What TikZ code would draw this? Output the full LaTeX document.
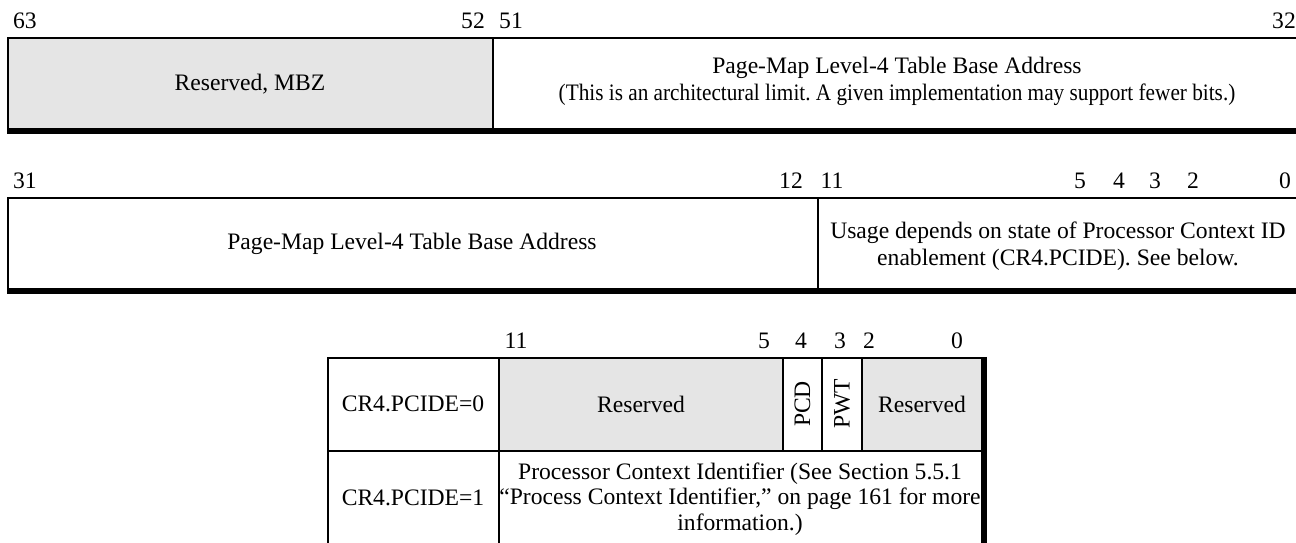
\documentclass[tikz,border=0pt]{standalone}
\usepackage{graphicx}
\usepackage{fontspec}
\setmainfont{Liberation Serif}
\frenchspacing
\definecolor{rsv}{RGB}{229,229,229}
\begin{document}
\begin{tikzpicture}[x=0.5pt,y=-0.5pt,
  every node/.style={font=\fontsize{11.8pt}{13.5pt}\selectfont, inner sep=0pt, outer sep=0pt},
  bitlbl/.style={anchor=base},
  rule/.style={line width=1.2pt},
  heavy/.style={line width=2.9pt},
  rsvfill/.style={fill=rsv}]
\useasboundingbox (0,0) rectangle (1296,542);
\clip (0,0) rectangle (1296,542);

% ---------- Row 1: bits 63..32 ----------
\node[bitlbl] (b63) at (25,28) {63};
\node[bitlbl] (b52) at (473,28) {52};
\node[bitlbl] (b51) at (511,28) {51};
\node[bitlbl] (b32) at (1284,28) {32};
\fill[rsvfill] (8,38) rectangle (493,131);
\draw[rule] (8,131) -- (8,38) -- (1303,38);
\draw[rule] (493,38) -- (493,131);
\draw[rule] (1301,38) -- (1301,131);
\draw[heavy] (7,131) -- (1303,131);
\node (mbz) at (250,84) {Reserved, MBZ};
\node[align=center] (pmlhi) at (897,81) {Page-Map Level-4 Table Base Address\\\scalebox{0.9}[1]{(This is an architectural limit. A given implementation may support fewer bits.)}};

% ---------- Row 2: bits 31..0 ----------
\node[bitlbl] (b31) at (25,188) {31};
\node[bitlbl] (b12) at (791,188) {12};
\node[bitlbl] (b11) at (832,188) {11};
\node[bitlbl] (b5) at (1080,188) {5};
\node[bitlbl] (b4) at (1119,188) {4};
\node[bitlbl] (b3) at (1155,188) {3};
\node[bitlbl] (b2) at (1193,188) {2};
\node[bitlbl] (b0) at (1285,188) {0};
\draw[rule] (8,291) -- (8,198) -- (1303,198);
\draw[rule] (818,198) -- (818,291);
\draw[rule] (1301,198) -- (1301,291);
\draw[heavy] (7,291) -- (1303,291);
\node (pmllo) at (412,244) {Page-Map Level-4 Table Base Address};
\node[align=center] (usage) at (1058,246) {Usage depends on state of Processor Context ID\\enablement (CR4.PCIDE). See below.};

% ---------- Bottom table: bits 11..0 ----------
\node[bitlbl] (c11) at (516,348) {11};
\node[bitlbl] (c5) at (764,348) {5};
\node[bitlbl] (c4) at (801,348) {4};
\node[bitlbl] (c3) at (840,348) {3};
\node[bitlbl] (c2) at (869,348) {2};
\node[bitlbl] (c0) at (957,348) {0};
\fill[rsvfill] (499,358) rectangle (783,451);
\fill[rsvfill] (862,358) rectangle (984,451);
\draw[rule] (328,548) -- (328,358) -- (984,358);
\draw[rule] (499,358) -- (499,548);
\draw[rule] (328,451) -- (984,451);
\draw[rule] (783,358) -- (783,451);
\draw[rule] (822,358) -- (822,451);
\draw[rule] (862,358) -- (862,451);
\draw[line width=3pt] (984,356.8) -- (984,548);
\node (pcide0) at (413,404) {CR4.PCIDE=0};
\node (rsvhi) at (641,404) {Reserved};
\node[rotate=90] (pcd) at (802.5,404) {PCD};
\node[rotate=90] (pwt) at (842,404) {PWT};
\node (rsvlo) at (922,404) {Reserved};
\node (pcide1) at (413,498) {CR4.PCIDE=1};
\node[align=center, font=\fontsize{11.8pt}{12.6pt}\selectfont] (pcid) at (740,499) {Processor Context Identifier (See Section 5.5.1\\“Process Context Identifier,” on page 161 for more\\information.)};
\end{tikzpicture}
\end{document}
